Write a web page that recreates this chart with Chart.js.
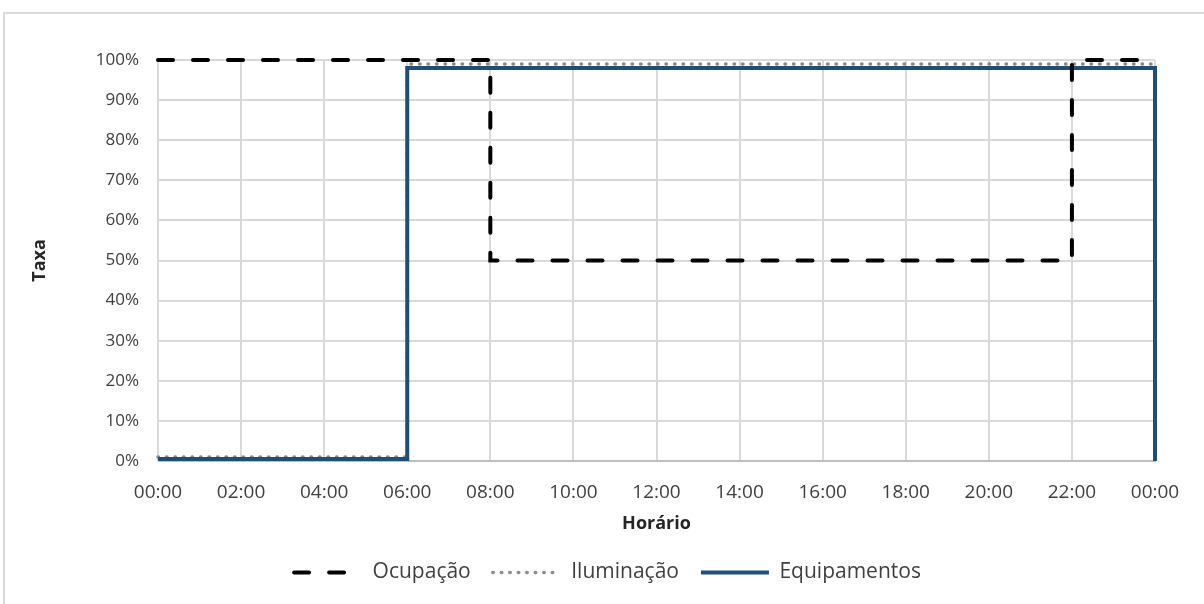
<!DOCTYPE html>
<html>
<head>
<meta charset="utf-8">
<script src="https://cdn.jsdelivr.net/npm/chart.js@4/dist/chart.umd.min.js"></script>
<style>
  html, body { margin: 0; padding: 0; background: #ffffff; }
  #wrap { position: relative; width: 1204px; height: 604px; }
</style>
</head>
<body>
<div id="wrap"><canvas id="grafico" width="1204" height="604"></canvas></div>
<script>
// Hour at which each hourly interval starts (00:00 .. 23:00)
const horas = [0,1,2,3,4,5,6,7,8,9,10,11,12,13,14,15,16,17,18,19,20,21,22,23];

// Hourly schedules (%)
const ocupacao     = [100,100,100,100,100,100,100,100, 50,50,50,50,50,50,50,50,50,50,50,50,50,50, 100,100];
const iluminacao   = [1,1,1,1,1,1, 99,99,99,99,99,99,99,99,99,99,99,99,99,99,99,99,99,99];
const equipamentos = [0.5,0.5,0.5,0.5,0.5,0.5, 98,98,98,98,98,98,98,98,98,98,98,98,98,98,98,98,98,98];

// Value each schedule closes the day with, at 24:00
const fimDoDia = 24;
const ocupacaoFim = 100;
const iluminacaoFim = 0;
const equipamentosFim = 0;

// Axis tick labels
const rotulosHorario = ['00:00','02:00','04:00','06:00','08:00','10:00','12:00','14:00','16:00','18:00','20:00','22:00','00:00'];
const rotulosTaxa = ['0%','10%','20%','30%','40%','50%','60%','70%','80%','90%','100%'];

function pontos(valores, fim) {
  const pts = horas.map((h, i) => ({ x: h, y: valores[i] }));
  pts.push({ x: fimDoDia, y: valores[valores.length - 1] });
  pts.push({ x: fimDoDia, y: fim });
  return pts;
}

const FONTE = "'Open Sans', 'Noto Sans', sans-serif";

// Light frame around the whole chart
const moldura = {
  id: 'moldura',
  beforeDraw(chart) {
    const c = chart.ctx;
    c.save();
    c.fillStyle = '#ffffff';
    c.fillRect(0, 0, chart.width, chart.height);
    c.strokeStyle = '#d9d9d9';
    c.lineWidth = 2;
    c.strokeRect(4, 13, 1400, 800);
    c.restore();
  }
};

// Legend entries show each series' own line style (dash, cap, width)
function legendaComEstilo(chart) {
  return chart.data.datasets.map((ds, i) => ({
    text: ds.label,
    datasetIndex: i,
    hidden: !chart.isDatasetVisible(i),
    fillStyle: ds.borderColor,
    strokeStyle: ds.borderColor,
    fontColor: '#404040',
    lineWidth: ds.borderWidth,
    lineDash: ds.borderDash || [],
    lineDashOffset: 0,
    lineCap: ds.borderCapStyle,
    pointStyle: 'line',
    rotation: 0
  }));
}

new Chart(document.getElementById('grafico'), {
  type: 'line',
  data: {
    datasets: [
      {
        label: 'Ocupação',
        data: pontos(ocupacao, ocupacaoFim),
        borderColor: '#000000',
        backgroundColor: '#000000',
        borderWidth: 4,
        borderDash: [15, 20],
        borderCapStyle: 'round',
        stepped: true,
        pointRadius: 0,
        fill: false,
        clip: false,
        order: 0
      },
      {
        label: 'Iluminação',
        data: pontos(iluminacao, iluminacaoFim),
        borderColor: '#8c8c8c',
        backgroundColor: '#8c8c8c',
        borderWidth: 3.5,
        borderDash: [0.5, 8],
        borderCapStyle: 'round',
        stepped: true,
        pointRadius: 0,
        fill: false,
        clip: false,
        order: 2
      },
      {
        label: 'Equipamentos',
        data: pontos(equipamentos, equipamentosFim),
        borderColor: '#1f4e79',
        backgroundColor: '#1f4e79',
        borderWidth: 4,
        borderCapStyle: 'butt',
        stepped: true,
        pointRadius: 0,
        fill: false,
        clip: false,
        order: 1
      }
    ]
  },
  options: {
    responsive: false,
    animation: false,
    devicePixelRatio: 1,
    layout: { padding: { top: 60, right: 49, left: 60, bottom: 11 } },
    plugins: {
      tooltip: { enabled: false },
      legend: {
        position: 'bottom',
        labels: {
          usePointStyle: true,
          pointStyle: 'line',
          boxWidth: 68,
          boxHeight: 4,
          pointStyleWidth: 68,
          padding: 22,
          color: '#404040',
          font: { family: FONTE, size: 21 },
          generateLabels: legendaComEstilo
        }
      }
    },
    scales: {
      x: {
        type: 'linear',
        min: 0,
        max: 24,
        ticks: {
          stepSize: 2,
          autoSkip: false,
          maxRotation: 0,
          padding: 20,
          color: '#404040',
          font: { family: FONTE, size: 19 },
          callback: (v, i) => rotulosHorario[i]
        },
        grid: { color: '#d9d9d9', lineWidth: 2, drawTicks: false },
        border: { color: '#bfbfbf', width: 2 },
        title: {
          display: true,
          text: 'Horário',
          color: '#262626',
          font: { family: FONTE, size: 18, weight: 'bold' },
          padding: { top: 4, bottom: 5 }
        },
        afterFit(scale) { scale.height = 79; }
      },
      y: {
        min: 0,
        max: 100,
        ticks: {
          stepSize: 10,
          padding: 19,
          color: '#404040',
          font: { family: FONTE, size: 17 },
          callback: (v, i) => rotulosTaxa[i]
        },
        grid: { color: '#d9d9d9', lineWidth: 2, drawTicks: false },
        border: { color: '#d9d9d9', width: 2 },
        title: {
          display: true,
          text: 'Taxa',
          color: '#262626',
          font: { family: FONTE, size: 18, weight: 'bold' },
          padding: { top: -31, bottom: 0 }
        },
        afterFit(scale) { scale.width = 98; }
      }
    }
  },
  plugins: [moldura]
});
</script>
</body>
</html>
